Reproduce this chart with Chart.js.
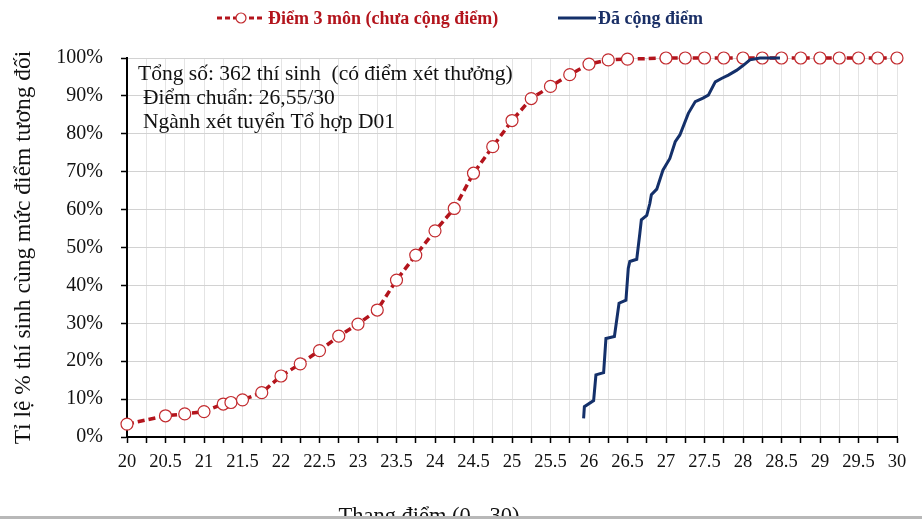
<!DOCTYPE html>
<html>
<head>
<meta charset="utf-8">
<script src="https://cdn.jsdelivr.net/npm/chart.js@4.4.1/dist/chart.umd.min.js"></script>
<style>
  html, body { margin: 0; padding: 0; background: #fff; }
  #wrap { width: 922px; height: 519px; }
</style>
</head>
<body>
<div id="wrap"><canvas id="score-chart" width="922" height="519"></canvas></div>
<script>
// Phân bố điểm D01 - trước và sau khi cộng điểm
//
// Two cumulative curves on a linear x scale (score 20 -> 30)
//

// Điểm 3 môn (chưa cộng điểm)
const rawScores = [20, 20.5, 20.75, 21, 21.25, 21.35, 21.5, 21.75, 22, 22.25, 22.5, 22.75, 23, 23.25, 23.5, 23.75,
    24, 24.25, 24.5, 24.75, 25, 25.25, 25.5, 25.75, 26, 26.25, 26.5, 27, 27.25, 27.5, 27.75, 28, 28.25, 28.5,
    28.75, 29, 29.25, 29.5, 29.75, 30]
const rawPercents = [3.4, 5.6, 6.1, 6.7, 8.7, 9.1, 9.8, 11.7, 16.1, 19.3, 22.8, 26.6, 29.8, 33.5, 41.4, 48.0,
    54.4, 60.3, 69.6, 76.6, 83.5, 89.3, 92.5, 95.6, 98.4, 99.5, 99.7, 100, 100, 100, 100, 100, 100, 100,
    100, 100, 100, 100, 100, 100]

// Đã cộng điểm
const bonusScores = [25.93, 25.94, 26.06, 26.09, 26.19, 26.22, 26.33, 26.39, 26.48, 26.51, 26.53, 26.62, 26.66,
    26.68, 26.75, 26.79, 26.81, 26.88, 26.96, 27.05, 27.12, 27.18, 27.29, 27.38, 27.48, 27.55, 27.64, 27.72,
    27.81, 27.92, 28.0, 28.09, 28.22, 28.48]
const bonusPercents = [4.9, 8.0, 9.6, 16.4, 17.0, 26.0, 26.5, 35.3, 36.1, 44.5, 46.3, 46.9, 53.7,
    57.3, 58.5, 61.6, 63.9, 65.4, 70.4, 73.5, 77.9, 79.7, 85.4, 88.5, 89.4, 90.2, 93.7, 94.6,
    95.5, 96.8, 98.0, 99.5, 100, 100]

const seriesNames = ["Điểm 3 môn (chưa cộng điểm)", "Đã cộng điểm"]
const noteLines = ["Tổng số: 362 thí sinh  (có điểm xét thưởng)", "Điểm chuẩn: 26,55/30", "Ngành xét tuyển Tổ hợp D01"]
const xTitle = "Thang điểm (0 - 30)"
const yTitle = "Tỉ lệ % thí sinh cùng mức điểm tương đối"

const RED = '#b3141c'
const RED_MARK = '#c22a2e'
const NAVY = '#14306a'
const SERIF = '"Liberation Serif", "DejaVu Serif", serif'

function toPoints(xs, ys) {
    return xs.map((x, i) => ({x: x, y: ys[i]}))
}

// legend, note box and x title are drawn by hand (positions differ from chart.js defaults)
const decorPlugin = {
    id: 'decor',
    afterDraw(chart) {
        const ctx = chart.ctx
        ctx.save()

        // legend - series 1
        ctx.strokeStyle = RED
        ctx.lineWidth = 3
        ctx.setLineDash([5, 3])
        ctx.beginPath()
        ctx.moveTo(217, 18); ctx.lineTo(265, 18)
        ctx.stroke()
        ctx.setLineDash([])
        ctx.beginPath()
        ctx.arc(241, 18, 5, 0, Math.PI * 2)
        ctx.fillStyle = '#fff'
        ctx.fill()
        ctx.lineWidth = 1.2
        ctx.strokeStyle = RED_MARK
        ctx.stroke()

        ctx.font = 'bold 18px ' + SERIF
        ctx.textBaseline = 'middle'
        ctx.textAlign = 'left'
        ctx.fillStyle = RED
        ctx.fillText(seriesNames[0], 268, 19)

        // legend - series 2
        ctx.strokeStyle = NAVY
        ctx.lineWidth = 3
        ctx.beginPath()
        ctx.moveTo(558, 18); ctx.lineTo(596, 18)
        ctx.stroke()
        ctx.fillStyle = '#1a2f66'
        ctx.fillText(seriesNames[1], 598, 19)

        // note text in plot
        ctx.font = '21.5px ' + SERIF
        ctx.fillStyle = '#111'
        ctx.fillText(noteLines[0], 138, 74)
        ctx.fillText(noteLines[1], 143, 98)
        ctx.fillText(noteLines[2], 143, 122)

        // x title, cut by the bottom edge like the source image
        ctx.font = '22.5px ' + SERIF
        ctx.textAlign = 'center'
        ctx.textBaseline = 'alphabetic'
        ctx.fillStyle = '#111'
        ctx.fillText(xTitle, 429, 523)

        // grey strip at the bottom
        ctx.fillStyle = '#b8b8b8'
        ctx.fillRect(0, 516, 922, 3)
        ctx.restore()
    }
}

function drawScoreChart() {

    const rawSet = {
        label: seriesNames[0],
        data: toPoints(rawScores, rawPercents),
        borderColor: RED,
        borderWidth: 3.5,
        borderDash: [7, 4],
        pointRadius: 6,
        pointBackgroundColor: '#fff',
        pointBorderColor: RED_MARK,
        pointBorderWidth: 1.2,
        tension: 0,
        clip: false,
        order: 2
    }

    const bonusSet = {
        label: seriesNames[1],
        data: toPoints(bonusScores, bonusPercents),
        borderColor: NAVY,
        borderWidth: 3,
        pointRadius: 0,
        tension: 0,
        clip: false,
        order: 1
    }

    const xAxis = {
        type: 'linear',
        min: 20,
        max: 30,
        afterFit: s => { s.height = 82 },
        border: {color: '#000', width: 2},
        grid: {
            color: '#e4e4e4',
            tickColor: '#000',
            tickLength: 6,
            tickWidth: 1.5
        },
        ticks: {
            stepSize: 0.25,
            autoSkip: false,
            maxRotation: 0,
            padding: 8,
            color: '#111',
            font: {family: SERIF, size: 18.5},
            callback: v => (Math.round(v * 100) % 50 === 0) ? String(v) : ''
        }
    }

    const yAxis = {
        min: 0,
        max: 100,
        afterFit: s => { s.width = 127 },
        border: {color: '#000', width: 2},
        grid: {
            color: '#d2d2d2',
            tickColor: '#000',
            tickLength: 6,
            tickWidth: 1.5,
            borderDash: [4, 3]
        },
        ticks: {
            stepSize: 10,
            padding: 18,
            color: '#111',
            font: {family: SERIF, size: 20},
            callback: v => v + '%'
        },
        title: {
            display: true,
            text: yTitle,
            color: '#111',
            font: {family: SERIF, size: 23.5},
            padding: {top: 10, bottom: 0}
        }
    }

    const config = {
        type: 'line',
        data: {datasets: [rawSet, bonusSet]},
        options: {
            responsive: false,
            animation: false,
            layout: {padding: {top: 58, right: 25, left: 0, bottom: 0}},
            plugins: {
                legend: {display: false},
                tooltip: {enabled: false}
            },
            scales: {x: xAxis, y: yAxis}
        },
        plugins: [decorPlugin]
    }

    new Chart(document.getElementById('score-chart'), config)
}

// The call
drawScoreChart()
</script>
</body>
</html>
